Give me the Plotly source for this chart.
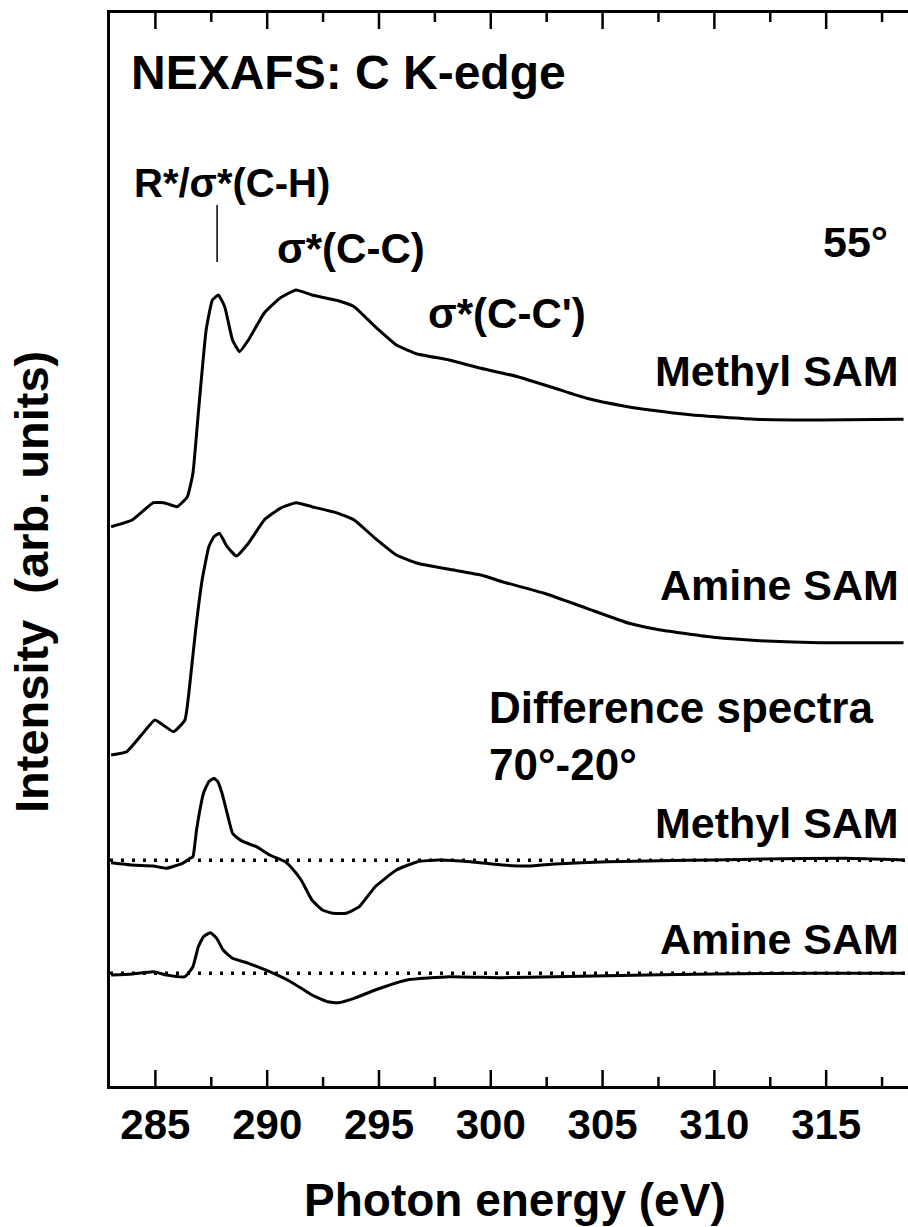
import plotly.graph_objects as go

# ---- data (photon energy in eV, intensity in arb. units incl. vertical offsets) ----
E_methyl = [283.02, 283.96, 284.91, 285.38, 285.97, 286.43, 286.68, 286.92, 287.27, 287.55,
            287.82, 288.10, 288.45, 288.76, 289.16, 289.87, 290.58, 291.29, 292.00, 293.18,
            293.89, 294.83, 295.78, 296.72, 298.14, 299.56, 301.21, 302.87, 304.29, 305.94,
            307.12, 309.02, 311.85, 314.69, 318.46]
I_methyl = [5.593, 5.66, 5.833, 5.833, 5.793, 5.893, 6.13, 6.73, 7.56, 7.86,
            7.91, 7.793, 7.46, 7.343, 7.46, 7.73, 7.88, 7.96, 7.91, 7.853,
            7.793, 7.593, 7.41, 7.32, 7.26, 7.177, 7.093, 6.977, 6.877, 6.80,
            6.76, 6.71, 6.667, 6.66, 6.667]

E_amine = [283.02, 283.72, 284.44, 284.98, 285.81, 286.32, 286.56, 286.80, 287.09, 287.39,
           287.62, 287.86, 288.21, 288.62, 289.16, 289.87, 290.58, 291.29, 292.00, 293.18,
           293.89, 294.83, 295.78, 296.72, 298.14, 299.56, 300.51, 302.39, 304.29, 306.18,
           307.60, 309.96, 312.32, 314.69, 318.46]
I_amine = [3.31, 3.343, 3.527, 3.66, 3.543, 3.66, 4.06, 4.56, 5.06, 5.393,
           5.493, 5.527, 5.393, 5.30, 5.427, 5.66, 5.777, 5.833, 5.793, 5.727,
           5.66, 5.477, 5.31, 5.227, 5.167, 5.11, 5.043, 4.927, 4.777, 4.627,
           4.56, 4.487, 4.45, 4.433, 4.433]

E_diff_methyl = [283.02, 283.96, 284.91, 285.50, 286.21, 286.56, 286.68, 286.84, 286.99, 287.15,
                 287.39, 287.62, 287.79, 287.98, 288.21, 288.45, 288.69, 288.93, 289.52, 290.11,
                 290.81, 291.05, 291.52, 292.00, 292.47, 292.94, 293.53, 294.12, 294.83, 295.78,
                 296.72, 297.67, 299.09, 300.51, 301.69, 302.87, 305.23, 307.60, 309.96, 312.32,
                 315.87, 318.46]
I_diff_methyl = [2.233, 2.21, 2.20, 2.177, 2.227, 2.277, 2.293, 2.56, 2.76, 2.927,
                 3.043, 3.077, 3.043, 2.927, 2.727, 2.527, 2.477, 2.443, 2.393, 2.31,
                 2.243, 2.193, 2.06, 1.86, 1.76, 1.727, 1.727, 1.793, 1.993, 2.16,
                 2.243, 2.26, 2.243, 2.21, 2.20, 2.22, 2.243, 2.253, 2.26, 2.27,
                 2.277, 2.26]

E_diff_amine = [283.02, 283.96, 284.91, 285.50, 286.32, 286.68, 286.92, 287.15, 287.46, 287.74,
                288.03, 288.45, 289.16, 290.11, 291.05, 292.00, 292.70, 293.18, 293.89, 294.83,
                296.25, 298.14, 300.51, 302.87, 305.23, 309.96, 314.69, 318.46]
I_diff_amine = [1.11, 1.12, 1.143, 1.11, 1.093, 1.193, 1.393, 1.493, 1.533, 1.477,
                1.36, 1.277, 1.227, 1.143, 1.043, 0.91, 0.843, 0.833, 0.877, 0.96,
                1.06, 1.093, 1.083, 1.093, 1.103, 1.12, 1.127, 1.127]

baseline_methyl = 2.257
baseline_amine = 1.127

x_range = [282.97, 318.66]
y_range = [0.0, 10.73]
tick_vals = [285, 290, 295, 300, 305, 310, 315]
tick_text = ["285", "290", "295", "300", "305", "310", "315"]
minor_vals = [287.5, 292.5, 297.5, 302.5, 307.5, 312.5, 317.5]

FONT = "Liberation Sans, Arial, Helvetica, sans-serif"

fig = go.Figure()
line_style = dict(color="black", width=3, shape="spline", smoothing=0.4)
for xs, ys in [(E_methyl, I_methyl), (E_amine, I_amine),
               (E_diff_methyl, I_diff_methyl), (E_diff_amine, I_diff_amine)]:
    fig.add_trace(go.Scatter(x=xs, y=ys, mode="lines", line=line_style,
                             showlegend=False, hoverinfo="skip"))

for b in [baseline_methyl, baseline_amine]:
    fig.add_trace(go.Scatter(x=x_range, y=[b, b], mode="lines",
                             line=dict(color="black", width=3.5, dash="3px,8px"),
                             showlegend=False, hoverinfo="skip"))

# marker line for R*/sigma*(C-H)
fig.add_trace(go.Scatter(x=[287.76, 287.76], y=[8.81, 8.24], mode="lines",
                         line=dict(color="black", width=1.5),
                         showlegend=False, hoverinfo="skip"))

# inward tick marks on bottom and top frame (major and minor), one short segment each
span = y_range[1] - y_range[0]
major_len = span * 16 / 1073
minor_len = span * 9 / 1073
for vals, ln in [(tick_vals, major_len), (minor_vals, minor_len)]:
    for v in vals:
        for y0, y1 in [(y_range[0], y_range[0] + ln), (y_range[1], y_range[1] - ln)]:
            fig.add_trace(go.Scatter(x=[v, v], y=[y0, y1], mode="lines",
                                     line=dict(color="black", width=2.5),
                                     showlegend=False, hoverinfo="skip"))

def label(text, x, y, size, xanchor="left"):
    fig.add_annotation(x=x, y=y, xref="x", yref="y", text=text, showarrow=False,
                       xanchor=xanchor, yanchor="middle",
                       font=dict(family=FONT, size=size, color="black", weight="bold"))

label("NEXAFS: C K-edge", 283.84, 10.135, 48)
label("R*/σ*(C-H)", 283.97, 9.03, 40)
label("σ*(C-C)", 290.33, 8.38, 42)
label("55°", 317.86, 8.44, 43, "right")
label("σ*(C-C')", 297.09, 7.73, 42)
label("Methyl SAM", 318.35, 7.15, 43, "right")
label("Amine SAM", 318.35, 5.01, 43, "right")
label("Difference spectra", 299.82, 3.79, 44)
label("70°-20°", 299.82, 3.22, 44)
label("Methyl SAM", 318.35, 2.63, 43, "right")
label("Amine SAM", 318.35, 1.47, 43, "right")

# axis titles (paper coordinates, outside the plotting area)
fig.add_annotation(x=0.5075, y=-0.1062, xref="paper", yref="paper", text="Photon energy (eV)",
                   showarrow=False, xanchor="center", yanchor="middle",
                   font=dict(family=FONT, size=46, color="black", weight="bold"))
fig.add_annotation(x=-0.099, y=0.4697, xref="paper", yref="paper", text="Intensity  (arb. units)",
                   showarrow=False, xanchor="center", yanchor="middle", textangle=-90,
                   font=dict(family=FONT, size=47, color="black", weight="bold"))

fig.update_xaxes(range=x_range, tickmode="array", tickvals=tick_vals, ticktext=tick_text,
                 ticks="",
                 showline=True, linecolor="black", linewidth=2.5, mirror=True,
                 showgrid=False, zeroline=False,
                 tickfont=dict(family=FONT, size=42, color="black", weight="bold"))
fig.update_yaxes(range=y_range, showticklabels=False, ticks="", showline=True,
                 linecolor="black", linewidth=2.5, mirror=False,
                 showgrid=False, zeroline=False)

fig.update_layout(width=908, height=1227, plot_bgcolor="white", paper_bgcolor="white",
                  margin=dict(l=110, r=0, t=13, b=141), showlegend=False)

fig.write_html("out.html")
